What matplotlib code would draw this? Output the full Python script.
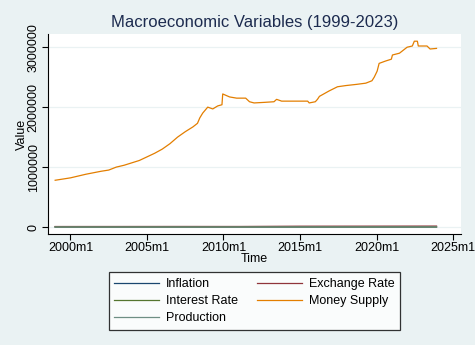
import matplotlib.pyplot as plt
from matplotlib.ticker import FixedLocator

# Дані (десятковий рік -> значення)
ms_time = [1999.0, 1999.5, 2000.0, 2000.5, 2001.0, 2001.5, 2002.0, 2002.5, 2003.0, 2003.5,
           2004.0, 2004.5, 2005.0, 2005.5, 2006.0, 2006.5, 2007.0, 2007.5, 2008.0, 2008.3,
           2008.45, 2008.64, 2008.97, 2009.3, 2009.62, 2009.9, 2009.95, 2010.4, 2010.86, 2011.45,
           2011.7, 2012.0, 2012.7, 2013.3, 2013.47, 2013.8, 2015.5, 2015.6, 2016.0, 2016.14,
           2016.27, 2016.9, 2017.45, 2018.0, 2018.7, 2019.3, 2019.7, 2019.85, 2020.04, 2020.17,
           2020.6, 2020.97, 2021.04, 2021.5, 2021.8, 2022.0, 2022.34, 2022.47, 2022.67, 2022.73,
           2023.3, 2023.5, 2023.92]
money_supply = [780000, 800000, 820000, 850000, 880000, 905000, 930000, 950000, 1000000, 1030000,
                1070000, 1110000, 1170000, 1230000, 1300000, 1390000, 1500000, 1590000, 1670000, 1730000,
                1820000, 1900000, 2000000, 1970000, 2020000, 2040000, 2220000, 2170000, 2150000, 2150000,
                2090000, 2070000, 2080000, 2090000, 2130000, 2100000, 2100000, 2070000, 2090000, 2130000,
                2180000, 2270000, 2340000, 2360000, 2380000, 2400000, 2440000, 2500000, 2600000, 2730000,
                2770000, 2800000, 2870000, 2900000, 2960000, 3000000, 3020000, 3100000, 3100000, 3020000,
                3020000, 2970000, 2980000]

years = [1999.0, 2003.0, 2007.0, 2011.0, 2015.0, 2019.0, 2023.92]
inflation = [20.5, 6.8, 6.4, 5.4, 6.4, 2.8, 2.6]
exchange_rate = [8000, 8500, 9100, 8700, 13400, 14100, 15400]
interest_rate = [38.0, 8.3, 8.0, 6.5, 7.5, 5.6, 6.0]
production = [95, 100, 110, 118, 125, 130, 135]

yticks = [0, 1000000, 2000000, 3000000]
xticks = [2000, 2005, 2010, 2015, 2020, 2025]
xtick_labels = ['2000m1', '2005m1', '2010m1', '2015m1', '2020m1', '2025m1']

plt.rcParams['font.family'] = ['Liberation Sans', 'DejaVu Sans']
bg = '#eaf2f3'

fig = plt.figure(figsize=(4.75, 3.45), dpi=100, facecolor=bg)
ax = fig.add_axes([0.101, 0.3217, 0.8695, 0.5797])
ax.set_facecolor('white')

lw = 0.9
h1, = ax.plot(years, inflation, color='#1a476f', lw=lw, label='Inflation')
h2, = ax.plot(years, exchange_rate, color='#90353b', lw=lw, label='Exchange Rate')
h3, = ax.plot(years, interest_rate, color='#55752f', lw=lw, label='Interest Rate')
h4, = ax.plot(ms_time, money_supply, color='#e37e00', lw=lw, label='Money Supply')
h5, = ax.plot(years, production, color='#6e8e84', lw=lw, label='Production')

ax.set_xlim(1998.53, 2025.52)
ax.set_ylim(-117000, 3220000)

ax.yaxis.set_major_locator(FixedLocator(yticks))
ax.set_yticklabels([str(v) for v in yticks], rotation=90, va='center', fontsize=9)
ax.set_xticks(xticks)
ax.set_xticklabels(xtick_labels, fontsize=9)
ax.tick_params(length=4, width=0.8, pad=2)
ax.grid(axis='y', color=bg, lw=0.9)
ax.set_axisbelow(True)

for s in ['top', 'right']:
    ax.spines[s].set_visible(False)
for s in ['left', 'bottom']:
    ax.spines[s].set_linewidth(0.8)

ax.set_title('Macroeconomic Variables (1999-2023)', fontsize=12, color='#1c2b4f', pad=5)
ax.set_ylabel('Value', fontsize=9, labelpad=0)
ax.set_xlabel('Time', fontsize=9, labelpad=-1)

# порядок рядками, як у Stata
handles = [h1, h3, h5, h2, h4]
leg = ax.legend(handles, [h.get_label() for h in handles], loc='upper center',
                bbox_to_anchor=(0.5, -0.16), ncol=2, fontsize=9,
                frameon=True, fancybox=False, edgecolor='black', handlelength=3.6,
                columnspacing=1.5, labelspacing=0.42, borderpad=0.45, handletextpad=0.55)
leg.get_frame().set_linewidth(0.9)

fig.savefig('out.png', dpi=100, facecolor=bg)
